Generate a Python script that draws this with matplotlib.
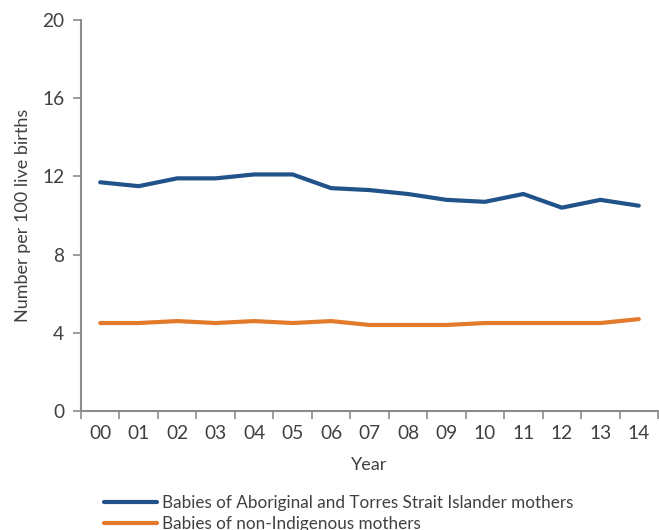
import matplotlib
matplotlib.use("Agg")
import matplotlib.pyplot as plt

years = ["00", "01", "02", "03", "04", "05", "06", "07", "08", "09", "10", "11", "12", "13", "14"]
indigenous = [11.7, 11.5, 11.9, 11.9, 12.1, 12.1, 11.4, 11.3, 11.1, 10.8, 10.7, 11.1, 10.4, 10.8, 10.5]
non_indigenous = [4.5, 4.5, 4.6, 4.5, 4.6, 4.5, 4.6, 4.4, 4.4, 4.4, 4.5, 4.5, 4.5, 4.5, 4.7]
series_labels = [
    "Babies of Aboriginal and Torres Strait Islander mothers",
    "Babies of non-Indigenous mothers",
]
y_ticks = [0, 4, 8, 12, 16, 20]

plt.rcParams["font.family"] = ["Lato", "DejaVu Sans"]
text_color = "#404040"
axis_color = "#8c8c8c"

fig = plt.figure(figsize=(6.59, 5.30), dpi=100)
ax = fig.add_axes([0.1229, 0.2245, 0.8756, 0.7378])

x = list(range(len(years)))
l1, = ax.plot(x, indigenous, color="#215289", lw=3.0, solid_joinstyle="round", solid_capstyle="round")
l2, = ax.plot(x, non_indigenous, color="#E2792B", lw=3.0, solid_joinstyle="round", solid_capstyle="round")

ax.set_xlim(-0.5, len(years) - 0.5)
ax.set_ylim(0, 20)
ax.set_yticks(y_ticks)
ax.set_xticks(x)
ax.set_xticklabels(years)
ax.set_xticks([i - 0.5 for i in range(len(years) + 1)], minor=True)
ax.tick_params(axis="x", which="major", length=0, pad=10, labelsize=13.8, labelcolor=text_color)
ax.tick_params(axis="x", which="minor", length=6, width=1.2, color=axis_color, direction="out")
ax.tick_params(axis="y", length=6, width=1.2, color=axis_color, direction="out", pad=6,
               labelsize=13.8, labelcolor=text_color)

for side in ["top", "right"]:
    ax.spines[side].set_visible(False)
for side in ["left", "bottom"]:
    ax.spines[side].set_color(axis_color)
    ax.spines[side].set_linewidth(1.5)

ax.set_xlabel("Year", fontsize=13, color=text_color, labelpad=11)
ax.set_ylabel("Number per 100 live births", fontsize=13, color=text_color, labelpad=8)

fig.legend([l1, l2], series_labels, loc="upper left", bbox_to_anchor=(0.158, 0.066),
           frameon=False, fontsize=12.3, handlelength=3.1, handletextpad=0.3,
           labelspacing=0.3, borderpad=0, borderaxespad=0, labelcolor=text_color)

fig.savefig("out.png", dpi=100)
